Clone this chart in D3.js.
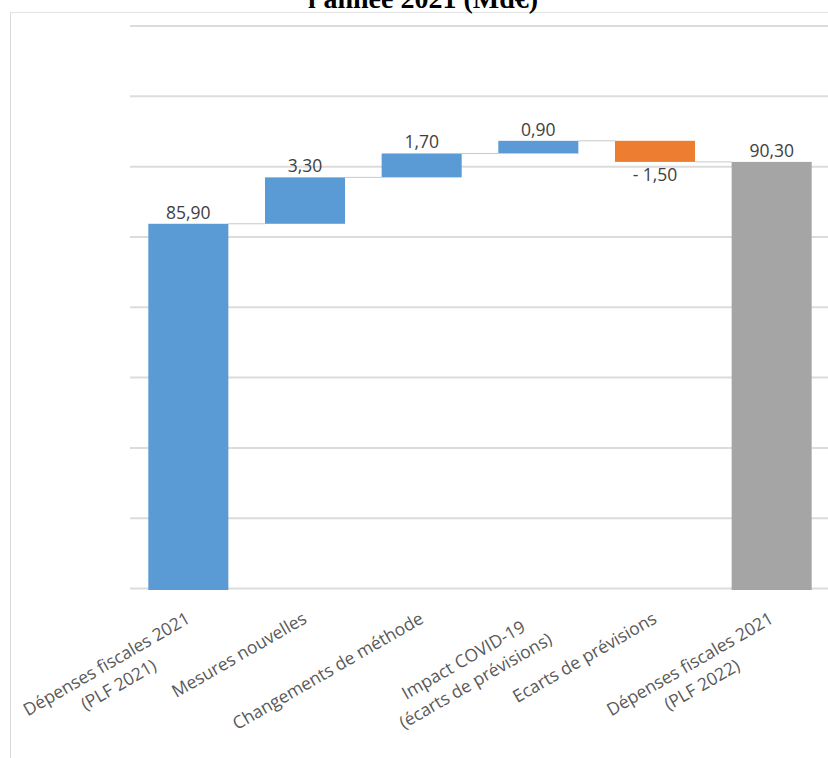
<!DOCTYPE html>
<html>
<head>
<meta charset="utf-8">
<script src="https://cdn.jsdelivr.net/npm/d3@7"></script>
<style>
  html, body { margin: 0; padding: 0; background: #fff; }
  svg { display: block; }
</style>
</head>
<body>
<svg id="chart" width="828" height="758"></svg>
<script>
// ---- data ----
const titleText = "l'année 2021 (Md€)";
const categories = [
  ["Dépenses fiscales 2021", "(PLF 2021)"],
  ["Mesures nouvelles"],
  ["Changements de méthode"],
  ["Impact COVID-19", "(écarts de prévisions)"],
  ["Ecarts de prévisions"],
  ["Dépenses fiscales 2021", "(PLF 2022)"]
];
const values = [85.9, 3.3, 1.7, 0.9, -1.5, 90.3];
const kinds = ["total", "delta", "delta", "delta", "delta", "total"];
const valueLabels = ["85,90", "3,30", "1,70", "0,90", "- 1,50", "90,30"];
const gridTicks = [60, 65, 70, 75, 80, 85, 90, 95, 100];

// ---- layout ----
const W = 828, H = 758;
const svg = d3.select("#chart");
const keys = categories.map((c, i) => i);

const x = d3.scaleBand().domain(keys).range([130, 830])
  .paddingInner(0.314).paddingOuter(0.157);
const y = d3.scaleLinear().domain([60, 100]).range([588, 25.5]);

// frame
svg.append("line").attr("x1", 10.5).attr("x2", 10.5).attr("y1", 12).attr("y2", H)
  .attr("stroke", "#d9d9d9").attr("stroke-width", 1);
svg.append("line").attr("x1", 10).attr("x2", W).attr("y1", 12.5).attr("y2", 12.5)
  .attr("stroke", "#e3e3e3").attr("stroke-width", 1);

// title (cut off at top as in the source)
svg.append("text").attr("x", 423).attr("y", 8)
  .attr("text-anchor", "middle")
  .style("font-family", "'Liberation Serif', 'Times New Roman', serif")
  .style("font-weight", "bold").style("font-size", "28px")
  .attr("fill", "#000").text(titleText);

// gridlines via axis
const yAxis = d3.axisLeft(y).tickValues(gridTicks).tickSize(-(W - 130)).tickFormat("");
const gAxis = svg.append("g").attr("transform", "translate(130,0)").call(yAxis);
gAxis.select(".domain").remove();
gAxis.selectAll(".tick line").attr("stroke", "#dcdcdc").attr("stroke-width", 2);

// compute waterfall segments
let running = 0;
const segs = values.map((v, i) => {
  let start, end;
  if (kinds[i] === "total") { start = y.domain()[0]; end = v; running = v; }
  else { start = running; end = running + v; running = end; }
  return { i, v, start, end, kind: kinds[i] };
});

// connectors
for (let i = 0; i < segs.length - 1; i++) {
  const lvl = segs[i].end;
  svg.append("line")
    .attr("x1", x(i) + x.bandwidth()).attr("x2", x(i + 1))
    .attr("y1", y(lvl)).attr("y2", y(lvl))
    .attr("stroke", "#c8c8c8").attr("stroke-width", 1);
}

function colorFor(s) {
  if (s.kind === "total") return s.i === 0 ? "#5B9BD5" : "#A5A5A5";
  return s.v >= 0 ? "#5B9BD5" : "#ED7D31";
}

// bars
svg.append("g").selectAll("rect").data(segs).join("rect")
  .attr("x", d => x(d.i))
  .attr("width", x.bandwidth())
  .attr("y", d => y(Math.max(d.start, d.end)))
  .attr("height", d => Math.abs(y(d.start) - y(d.end)) + (d.kind === "total" ? 2 : 0))
  .attr("fill", colorFor);

// value labels
svg.append("g").selectAll("text").data(segs).join("text")
  .attr("x", d => x(d.i) + x.bandwidth() / 2)
  .attr("y", d => d.v >= 0 ? y(Math.max(d.start, d.end)) - 5 : y(Math.min(d.start, d.end)) + 19)
  .attr("text-anchor", "middle")
  .style("font-family", "'Open Sans', 'Noto Sans', sans-serif")
  .style("font-size", "17.5px")
  .attr("fill", "#404040")
  .text(d => valueLabels[d.i]);

// category labels, rotated
const lineH = 24;
const gl = svg.append("g");
categories.forEach((lines, i) => {
  const cx = x(i) + x.bandwidth() / 2;
  const g = gl.append("g")
    .attr("transform", `translate(${cx + 3},622) rotate(-30)`);
  const t = g.append("text")
    .style("font-family", "'Open Sans', 'Noto Sans', sans-serif")
    .style("font-size", "17.5px")
    .attr("fill", "#595959")
    .attr("text-anchor", "middle");
  const spans = lines.map((ln, k) => t.append("tspan").attr("y", k * lineH).text(ln));
  const maxW = d3.max(spans, s => s.node().getComputedTextLength());
  spans.forEach(s => s.attr("x", -maxW / 2));
});
</script>
</body>
</html>
